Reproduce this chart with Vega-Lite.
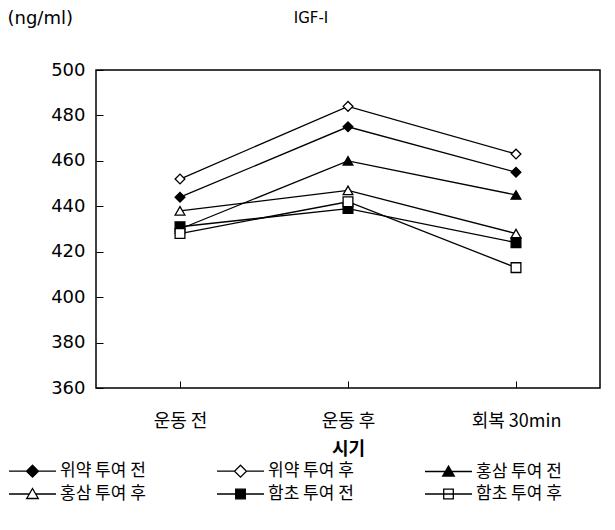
{
  "$schema": "https://vega.github.io/schema/vega-lite/v6.json",
  "autosize": "none",
  "width": 504,
  "height": 318,
  "padding": {"left": 96, "top": 70, "right": 15, "bottom": 142},
  "background": "white",
  "title": {
    "text": "IGF-I",
    "font": "DejaVu Sans",
    "fontSize": 15,
    "fontWeight": "normal",
    "color": "black",
    "anchor": "middle",
    "frame": "group",
    "dx": -37,
    "offset": 0,
    "dy": 17
  },
  "config": {
    "view": {"stroke": "black", "strokeWidth": 1.5},
    "axis": {
      "domain": false,
      "grid": false,
      "tickColor": "black",
      "labelColor": "black",
      "titleColor": "black"
    }
  },
  "data": {
    "values": [
      {"time": "운동 전", "group": "위약 투여 전", "value": 444},
      {"time": "운동 후", "group": "위약 투여 전", "value": 475},
      {"time": "회복 30min", "group": "위약 투여 전", "value": 455},
      {"time": "운동 전", "group": "위약 투여 후", "value": 452},
      {"time": "운동 후", "group": "위약 투여 후", "value": 484},
      {"time": "회복 30min", "group": "위약 투여 후", "value": 463},
      {"time": "운동 전", "group": "홍삼 투여 전", "value": 430},
      {"time": "운동 후", "group": "홍삼 투여 전", "value": 460},
      {"time": "회복 30min", "group": "홍삼 투여 전", "value": 445},
      {"time": "운동 전", "group": "홍삼 투여 후", "value": 438},
      {"time": "운동 후", "group": "홍삼 투여 후", "value": 447},
      {"time": "회복 30min", "group": "홍삼 투여 후", "value": 428},
      {"time": "운동 전", "group": "함초 투여 전", "value": 431},
      {"time": "운동 후", "group": "함초 투여 전", "value": 439},
      {"time": "회복 30min", "group": "함초 투여 전", "value": 424},
      {"time": "운동 전", "group": "함초 투여 후", "value": 428},
      {"time": "운동 후", "group": "함초 투여 후", "value": 442},
      {"time": "회복 30min", "group": "함초 투여 후", "value": 413}
    ]
  },
  "encoding": {
    "x": {
      "field": "time",
      "type": "nominal",
      "sort": ["운동 전", "운동 후", "회복 30min"],
      "scale": {"paddingInner": 0, "paddingOuter": 0},
      "axis": {
        "title": "시기",
        "titleFont": "Noto Sans CJK KR",
        "titleFontSize": 18,
        "titleFontWeight": "bold",
        "titlePadding": 10,
        "labelAngle": 0,
        "labelFont": "Noto Sans CJK KR",
        "labelFontSize": 18,
        "labelPadding": 31,
        "bandPosition": 0,
        "tickSize": -7,
        "tickWidth": 1
      }
    },
    "y": {
      "field": "value",
      "type": "quantitative",
      "scale": {"domain": [360, 500], "nice": false, "zero": false},
      "axis": {
        "values": [360, 380, 400, 420, 440, 460, 480, 500],
        "title": "(ng/ml)",
        "titleFont": "DejaVu Sans",
        "titleFontSize": 18,
        "titleFontWeight": "normal",
        "titleAngle": 0,
        "titleAlign": "left",
        "titleBaseline": "middle",
        "titleX": -89,
        "titleY": -52,
        "labelFont": "DejaVu Sans",
        "labelFontSize": 18,
        "labelPadding": 18,
        "tickSize": -7,
        "tickWidth": 1
      }
    }
  },
  "layer": [
    {
      "mark": {"type": "line", "color": "black", "strokeWidth": 1.3},
      "encoding": {"detail": {"field": "group", "type": "nominal"}}
    },
    {
      "mark": {"type": "point", "size": 95, "stroke": "black", "strokeWidth": 1.3, "opacity": 1},
      "encoding": {
        "shape": {
          "field": "group",
          "type": "nominal",
          "scale": {
            "domain": ["위약 투여 전", "위약 투여 후", "홍삼 투여 전", "홍삼 투여 후", "함초 투여 전", "함초 투여 후"],
            "range": ["diamond", "diamond", "triangle-up", "triangle-up", "square", "square"]
          },
          "legend": null
        },
        "fill": {
          "condition": {"test": "indexof(datum.group, '전') >= 0", "value": "black"},
          "value": "white"
        }
      }
    },
    {
      "transform": [{"filter": "datum.value > 100000"}],
      "mark": {"type": "point", "size": 400, "strokeWidth": 1.3, "opacity": 1},
      "encoding": {
        "shape": {
          "field": "group",
          "type": "nominal",
          "scale": {
            "domain": ["위약 투여 전", "위약 투여 후", "홍삼 투여 전", "홍삼 투여 후", "함초 투여 전", "함초 투여 후"],
            "range": [
              "M-1,0H0.75M1.95,0H3.7M1.35,-0.6L1.95,0L1.35,0.6L0.75,0Z",
              "M-1,0H0.75M1.95,0H3.7M1.35,-0.6L1.95,0L1.35,0.6L0.75,0Z",
              "M-1,0H1.03M1.67,0H3.7M1.35,-0.55L1.93,0.45L0.77,0.45Z",
              "M-1,0H1.03M1.67,0H3.7M1.35,-0.55L1.93,0.45L0.77,0.45Z",
              "M-1,0H3.7M0.87,-0.48H1.83V0.48H0.87Z",
              "M-1,0H3.7M0.87,-0.48H1.83V0.48H0.87Z"
            ]
          },
          "legend": {
            "title": null,
            "orient": "none",
            "legendX": -88,
            "legendY": 390,
            "direction": "horizontal",
            "columns": 3,
            "gridAlign": "all",
            "columnPadding": 68,
            "rowPadding": 3,
            "symbolSize": 400,
            "symbolStrokeWidth": 1.3,
            "labelFont": "Noto Sans CJK KR",
            "labelFontSize": 17,
            "labelColor": "black",
            "labelOffset": 30,
            "labelLimit": 300
          }
        },
        "fill": {
          "field": "group",
          "type": "nominal",
          "scale": {
            "domain": ["위약 투여 전", "위약 투여 후", "홍삼 투여 전", "홍삼 투여 후", "함초 투여 전", "함초 투여 후"],
            "range": ["black", "white", "black", "white", "black", "white"]
          },
          "legend": {
            "title": null,
            "orient": "none",
            "legendX": -88,
            "legendY": 390,
            "direction": "horizontal",
            "columns": 3,
            "gridAlign": "all",
            "columnPadding": 68,
            "rowPadding": 3,
            "symbolSize": 400,
            "symbolStrokeWidth": 1.3,
            "labelFont": "Noto Sans CJK KR",
            "labelFontSize": 17,
            "labelColor": "black",
            "labelOffset": 30,
            "labelLimit": 300
          }
        },
        "stroke": {
          "field": "group",
          "type": "nominal",
          "scale": {
            "domain": ["위약 투여 전", "위약 투여 후", "홍삼 투여 전", "홍삼 투여 후", "함초 투여 전", "함초 투여 후"],
            "range": ["black", "black", "black", "black", "black", "black"]
          },
          "legend": {
            "title": null,
            "orient": "none",
            "legendX": -88,
            "legendY": 390,
            "direction": "horizontal",
            "columns": 3,
            "gridAlign": "all",
            "columnPadding": 68,
            "rowPadding": 3,
            "symbolSize": 400,
            "symbolStrokeWidth": 1.3,
            "labelFont": "Noto Sans CJK KR",
            "labelFontSize": 17,
            "labelColor": "black",
            "labelOffset": 30,
            "labelLimit": 300
          }
        }
      }
    }
  ],
  "resolve": {
    "scale": {"shape": "independent", "fill": "independent", "stroke": "independent"},
    "legend": {"shape": "independent", "fill": "independent", "stroke": "independent"}
  }
}
